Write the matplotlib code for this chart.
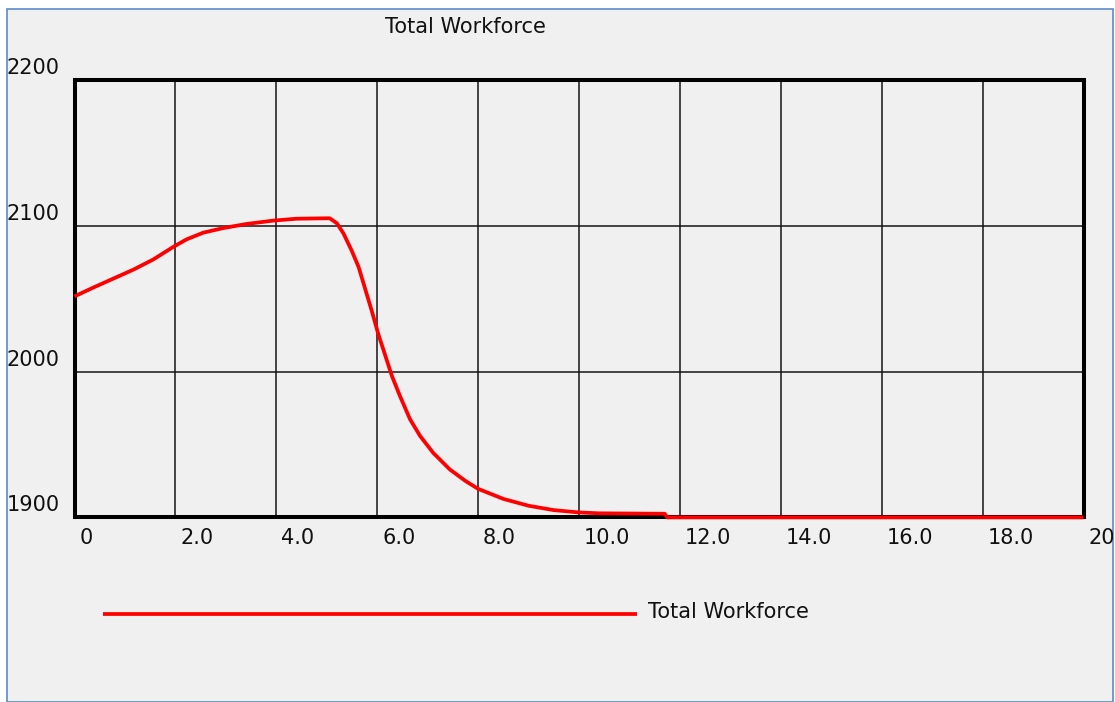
import matplotlib
matplotlib.use("Agg")
import matplotlib.pyplot as plt
from matplotlib.patches import Rectangle
from matplotlib.lines import Line2D
from matplotlib.transforms import blended_transform_factory, ScaledTranslation, Bbox, TransformedBbox

# Total Workforce over time
time = [0, 0.37, 0.77, 1.17, 1.56, 1.96, 2.22, 2.55, 2.95, 3.41, 3.94, 4.4,
        5.0, 5.06, 5.2, 5.33, 5.49, 5.63, 5.76, 5.89, 6.02, 6.15, 6.29,
        6.45, 6.65, 6.85, 7.11, 7.44, 7.75, 8.0, 8.5, 9.0, 9.5, 10.0, 10.4,
        11.7, 11.75, 20]
workforce = [2051.7, 2057.7, 2063.9, 2070.1, 2077, 2085.7, 2090.8, 2095.4,
             2098.6, 2101.4, 2103.7, 2105, 2105.3, 2105.3, 2101.9, 2095,
             2083.4, 2072, 2057, 2042, 2026, 2012.2, 1997.2, 1983.4, 1967.4,
             1955.9, 1944.3, 1932.9, 1925, 1919.6, 1912.7, 1908, 1905,
             1903.4, 1902.8, 1902.5, 1900, 1900]

x_ticks = [0, 2, 4, 6, 8, 10, 12, 14, 16, 18, 20]
x_labels = ["0", "2.0", "4.0", "6.0", "8.0", "10.0", "12.0", "14.0", "16.0", "18.0", "20"]
y_ticks = [1900, 2000, 2100, 2200]
y_labels = ["1900", "2000", "2100", "2200"]

W, H = 1115, 702
BG = "#f0f0f0"
FONT = dict(family="DejaVu Sans", size=15, color="#111111")

fig = plt.figure(figsize=(W / 100, H / 100), dpi=100)
fig.patch.set_facecolor("white")
# panel background with blue frame
fig.add_artist(Rectangle((6.5 / W, 0), (1113 - 6.5) / W, (H - 8.5) / H,
                         transform=fig.transFigure, facecolor=BG,
                         edgecolor="#5b8bc9", linewidth=1.2, zorder=-10))

ax = fig.add_axes([74.5 / W, (H - 517.4) / H, 1009 / W, 437.1 / H])
ax.set_facecolor(BG)
ax.set_xlim(0, 20)
ax.set_ylim(1900, 2200)
ax.set_xticks(x_ticks)
ax.set_yticks(y_ticks)
ax.tick_params(length=0, labelbottom=False, labelleft=False)
ax.grid(True, color="#141414", linewidth=1.1)
ax.set_axisbelow(True)
for s in ax.spines.values():
    s.set_linewidth(2.9)
    s.set_color("black")

ax.plot(time, workforce, color="#ff0000", linewidth=2.7, clip_on=False,
        zorder=5, solid_joinstyle="round", solid_capstyle="butt")

# y labels: left edge of panel, just above each gridline
ytr = blended_transform_factory(fig.transFigure, ax.transData) + \
    ScaledTranslation(0, 0.06, fig.dpi_scale_trans)
for v, lbl in zip(y_ticks, y_labels):
    ax.text(6.5 / W, v, lbl, transform=ytr, ha="left", va="baseline", **FONT)

# x labels: right of each gridline, under the axes
xtr = blended_transform_factory(ax.transData, ax.transAxes) + \
    ScaledTranslation(0.05, -0.265, fig.dpi_scale_trans)
clip = TransformedBbox(Bbox([[0, 0], [1112.5 / W, 1]]), fig.transFigure)
for v, lbl in zip(x_ticks, x_labels):
    t = ax.text(v, 0, lbl, transform=xtr, ha="left", va="baseline",
                clip_on=True, **FONT)
    t.set_clip_box(clip)

fig.text(385 / W, (H - 33) / H, "Total Workforce", ha="left",
         va="baseline", **FONT)

# legend
fig.add_artist(Line2D([103 / W, 637 / W], [(H - 614) / H] * 2,
                      transform=fig.transFigure, color="#ff0000",
                      linewidth=2.7, solid_capstyle="butt"))
fig.text(648 / W, (H - 618) / H, "Total Workforce", ha="left",
         va="baseline", **FONT)

fig.savefig("out.png", dpi=100, facecolor="white")
